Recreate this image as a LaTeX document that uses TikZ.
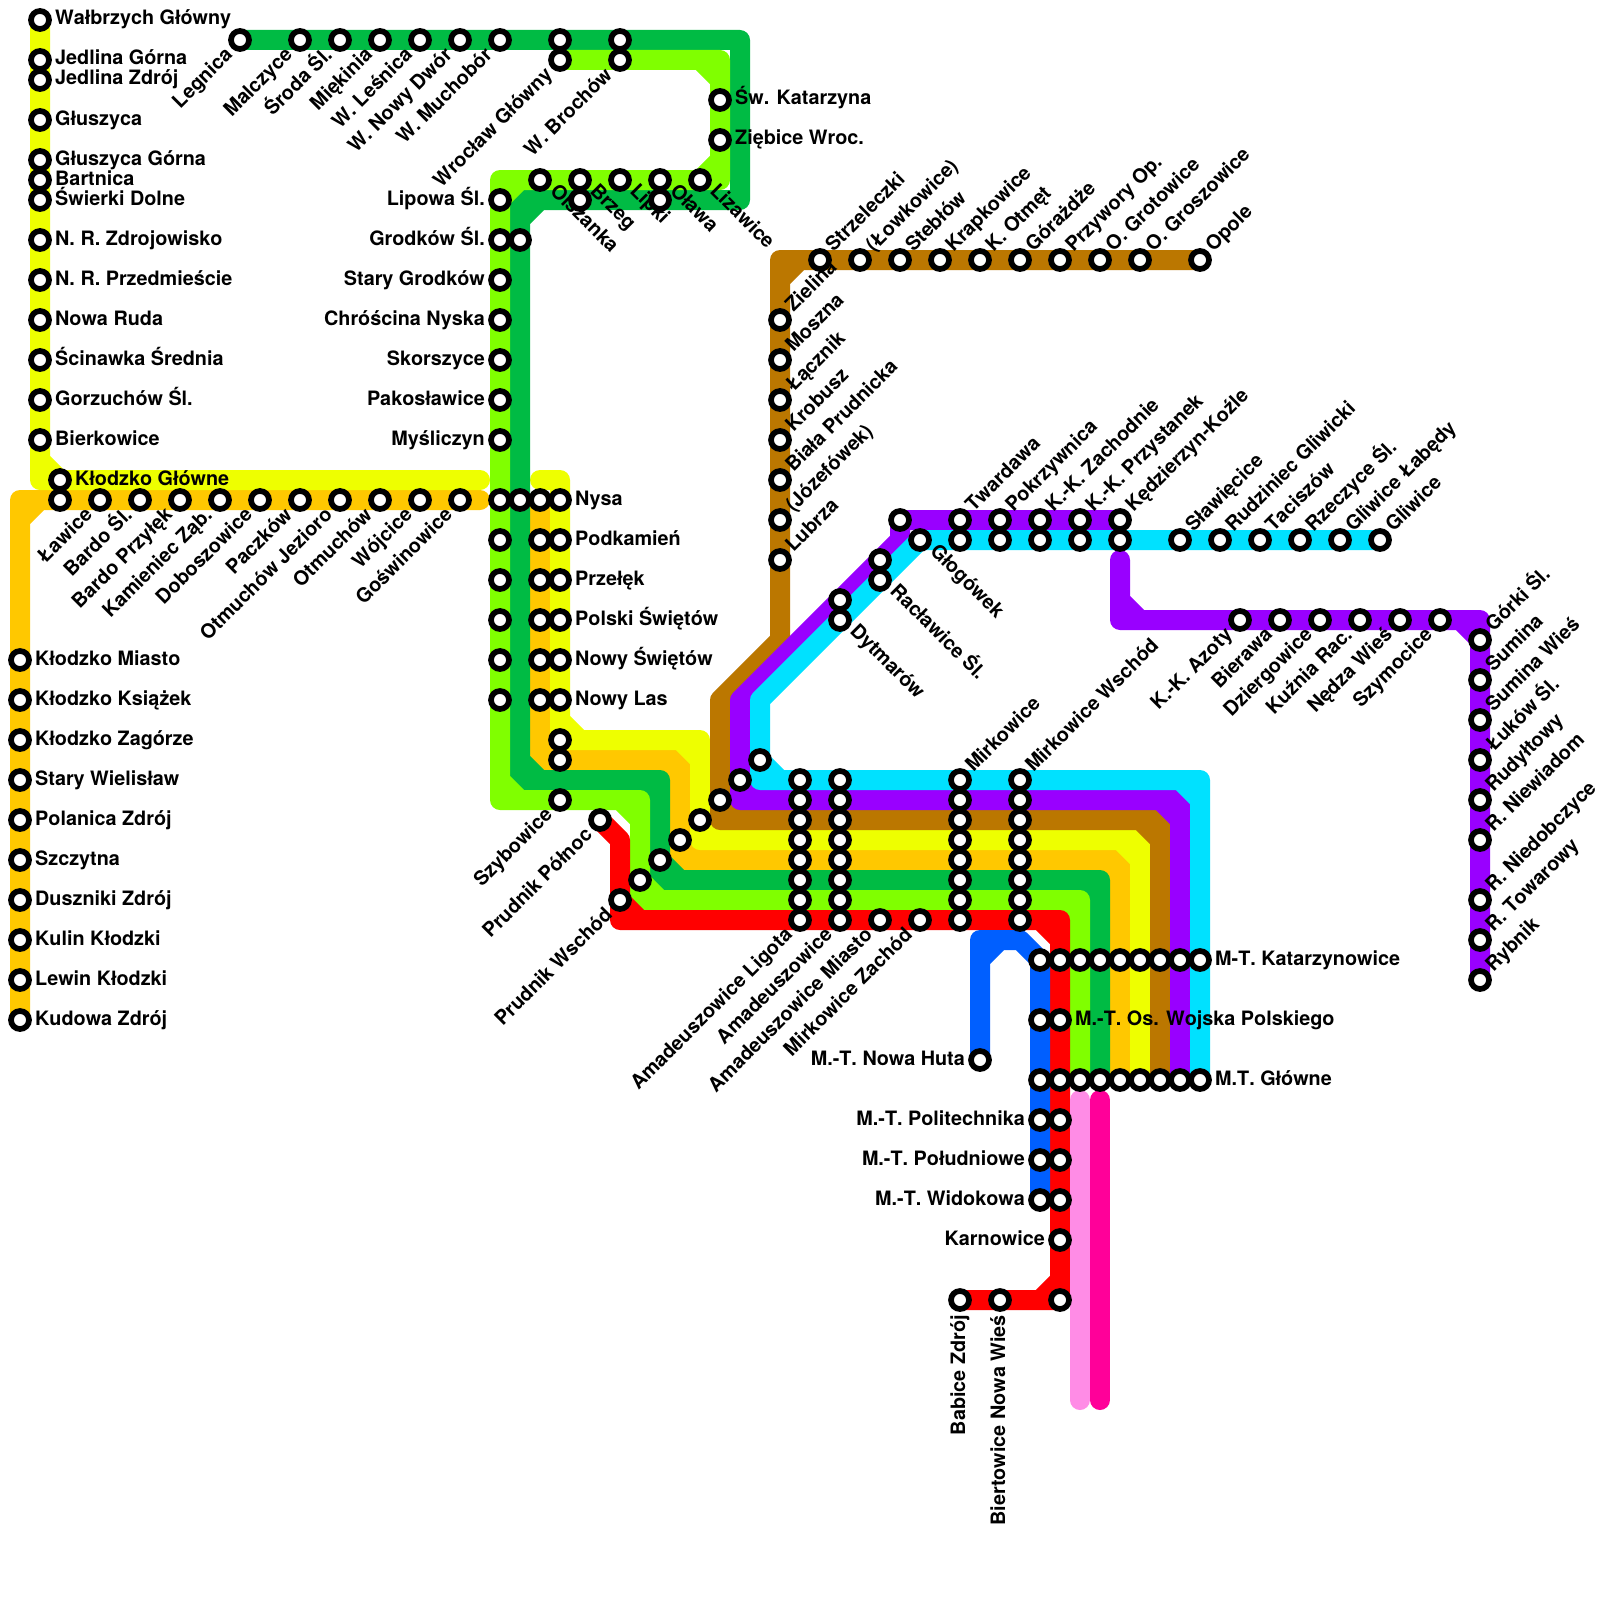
\documentclass[tikz,border=0pt]{standalone}
\usepackage{fontspec}
\setmainfont{TeX Gyre Heros}[Kerning=Off]
\newfontfamily\lslfont{Liberation Sans}
\catcode`ł=13
\protected\defł{{\lslfont\char"0142}}
\definecolor{cYel}{RGB}{238,255,0}
\definecolor{cOra}{RGB}{255,200,0}
\definecolor{cGre}{RGB}{0,187,68}
\definecolor{cLim}{RGB}{128,255,0}
\definecolor{cBro}{RGB}{187,119,0}
\definecolor{cPur}{RGB}{153,0,255}
\definecolor{cCya}{RGB}{0,225,255}
\definecolor{cRed}{RGB}{255,0,0}
\definecolor{cBlu}{RGB}{0,95,255}
\definecolor{cPin}{RGB}{255,140,230}
\definecolor{cMag}{RGB}{255,0,153}
\tikzset{
  rail/.style={line width=20pt,line cap=round,line join=round},
  stn/.style={circle,draw=black,fill=white,line width=5.7pt,minimum size=18pt,inner sep=0pt},
  lbl/.style={inner sep=0pt,font=\fontsize{19.8pt}{21pt}\selectfont\bfseries},
  lR/.style={lbl,anchor=base west,xshift=15pt,yshift=-5pt},
  lL/.style={lbl,anchor=base east,xshift=-15pt,yshift=-5pt},
  lUR/.style={lbl,anchor=base west,xshift=13.5pt,yshift=7pt,rotate=45},
  lDR/.style={lbl,anchor=base west,xshift=9pt,yshift=-12pt,rotate=-45},
  lDL/.style={lbl,anchor=base east,xshift=-6.5pt,yshift=-16pt,rotate=45},
  lDN/.style={lbl,anchor=base east,xshift=5pt,yshift=-15pt,rotate=90},
}
\newcommand{\stat}[2]{\node[stn] (s-#1-#2) at (#1,#2) {};}
\newcommand{\lab}[4]{\stat{#1}{#2}\node[#3] (t-#1-#2) at (s-#1-#2) {#4};}
\begin{document}
\begin{tikzpicture}[x=1pt,y=-1pt]
\useasboundingbox (0,0) rectangle (1600,1600);
\fill[white] (0,0) rectangle (1600,1600);
% orange
\draw[rail,cOra] (20,1020)--(20,500)--(480,500) (20,520)--(40,500);
\draw[rail,cOra] (540,500)--(540,760)--(680,760)--(680,860)--(1120,860)--(1120,1080) (540,740)--(560,760) (660,760)--(680,780) (680,840)--(700,860) (1100,860)--(1120,880);
% yellow
\draw[rail,cYel] (40,20)--(40,480)--(480,480) (40,460)--(60,480);
\draw[rail,cYel] (540,480)--(560,480)--(560,740)--(700,740)--(700,840)--(1140,840)--(1140,1080) (560,720)--(580,740) (680,740)--(700,760) (700,820)--(720,840) (1120,840)--(1140,860);
% brown
\draw[rail,cBro] (1200,260)--(780,260)--(780,640)--(720,700)--(720,820)--(1160,820)--(1160,1080) (780,280)--(800,260) (720,800)--(740,820) (1140,820)--(1160,840);
% purple
\draw[rail,cPur] (1120,520)--(900,520)--(900,540)--(740,700)--(740,800)--(1180,800)--(1180,1080) (740,780)--(760,800) (1160,800)--(1180,820);
\draw[rail,cPur] (1120,560)--(1120,620)--(1480,620)--(1480,980) (1120,600)--(1140,620) (1460,620)--(1480,640);
% cyan
\draw[rail,cCya] (1380,540)--(920,540)--(760,700)--(760,780)--(1200,780)--(1200,1080) (760,760)--(780,780) (1180,780)--(1200,800);
% green
\draw[rail,cGre] (240,40)--(740,40)--(740,200)--(520,200)--(520,780)--(660,780)--(660,880)--(1100,880)--(1100,1080) (520,220)--(540,200) (520,760)--(540,780) (640,780)--(660,800) (660,860)--(680,880) (1080,880)--(1100,900);
% lime
\draw[rail,cLim] (560,60)--(720,60)--(720,180)--(500,180)--(500,800)--(640,800)--(640,900)--(1080,900)--(1080,1080) (700,60)--(720,80) (720,160)--(700,180) (500,200)--(520,180) (500,780)--(520,800) (620,800)--(640,820) (640,880)--(660,900) (1060,900)--(1080,920);
% red
\draw[rail,cRed] (600,820)--(620,840)--(620,920)--(1060,920)--(1060,1300)--(960,1300) (620,900)--(640,920) (1040,920)--(1060,940) (1060,1280)--(1040,1300);
% blue
\draw[rail,cBlu] (980,1060)--(980,940)--(1020,940)--(1040,960)--(1040,1200) (980,960)--(1000,940);
% pink, magenta
\draw[rail,cPin] (1080,1100)--(1080,1400);
\draw[rail,cMag] (1100,1100)--(1100,1400);
% yellow line stations
\lab{40}{20}{lR}{Wałbrzych Główny}
\lab{40}{60}{lR}{Jedlina Górna}
\lab{40}{80}{lR}{Jedlina Zdrój}
\lab{40}{120}{lR}{Głuszyca}
\lab{40}{160}{lR}{Głuszyca Górna}
\lab{40}{180}{lR}{Bartnica}
\lab{40}{200}{lR}{Świerki Dolne}
\lab{40}{240}{lR}{N. R. Zdrojowisko}
\lab{40}{280}{lR}{N. R. Przedmieście}
\lab{40}{320}{lR}{Nowa Ruda}
\lab{40}{360}{lR}{Ścinawka Średnia}
\lab{40}{400}{lR}{Gorzuchów Śl.}
\lab{40}{440}{lR}{Bierkowice}
\lab{60}{480}{lR}{Kłodzko Główne}
% orange west
\stat{60}{500}
\lab{100}{500}{lDL}{Ławice}
\lab{140}{500}{lDL}{Bardo Śl.}
\lab{180}{500}{lDL}{Bardo Przyłęk}
\lab{220}{500}{lDL}{Kamieniec Ząb.}
\lab{260}{500}{lDL}{Doboszowice}
\lab{300}{500}{lDL}{Paczków}
\lab{340}{500}{lDL}{Otmuchów Jezioro}
\lab{380}{500}{lDL}{Otmuchów}
\lab{420}{500}{lDL}{Wójcice}
\lab{460}{500}{lDL}{Goświnowice}
\lab{20}{660}{lR}{Kłodzko Miasto}
\lab{20}{700}{lR}{Kłodzko Książek}
\lab{20}{740}{lR}{Kłodzko Zagórze}
\lab{20}{780}{lR}{Stary Wielisław}
\lab{20}{820}{lR}{Polanica Zdrój}
\lab{20}{860}{lR}{Szczytna}
\lab{20}{900}{lR}{Duszniki Zdrój}
\lab{20}{940}{lR}{Kulin Kłodzki}
\lab{20}{980}{lR}{Lewin Kłodzki}
\lab{20}{1020}{lR}{Kudowa Zdrój}
% top green
\lab{240}{40}{lDL}{Legnica}
\lab{300}{40}{lDL}{Malczyce}
\lab{340}{40}{lDL}{Środa Śl.}
\lab{380}{40}{lDL}{Miękinia}
\lab{420}{40}{lDL}{W. Leśnica}
\lab{460}{40}{lDL}{W. Nowy Dwór}
\lab{500}{40}{lDL}{W. Muchobór}
\stat{560}{40}
\stat{620}{40}
\lab{560}{60}{lDL}{Wrocław Główny}
\lab{620}{60}{lDL}{W. Brochów}
\lab{720}{100}{lR}{Św. Katarzyna}
\lab{720}{140}{lR}{Ziębice Wroc.}
\lab{540}{180}{lDR}{Olszanka}
\lab{580}{180}{lDR}{Brzeg}
\stat{580}{200}
\lab{620}{180}{lDR}{Lipki}
\lab{660}{180}{lDR}{Oława}
\stat{660}{200}
\lab{700}{180}{lDR}{Lizawice}
% lime column
\lab{500}{200}{lL}{Lipowa Śl.}
\lab{500}{240}{lL}{Grodków Śl.}
\stat{520}{240}
\lab{500}{280}{lL}{Stary Grodków}
\lab{500}{320}{lL}{Chróścina Nyska}
\lab{500}{360}{lL}{Skorszyce}
\lab{500}{400}{lL}{Pakosławice}
\lab{500}{440}{lL}{Myśliczyn}
\foreach \y in {500,540,580,620,660,700} {\stat{500}{\y}\stat{540}{\y}}
\stat{520}{500}
\lab{560}{500}{lR}{Nysa}
\lab{560}{540}{lR}{Podkamień}
\lab{560}{580}{lR}{Przełęk}
\lab{560}{620}{lR}{Polski Świętów}
\lab{560}{660}{lR}{Nowy Świętów}
\lab{560}{700}{lR}{Nowy Las}
\stat{560}{740}
\stat{560}{760}
\lab{560}{800}{lDL}{Szybowice}
\lab{600}{820}{lDL}{Prudnik Północ}
\lab{620}{900}{lDL}{Prudnik Wschód}
\stat{640}{880}
\stat{660}{860}
\stat{680}{840}
\stat{700}{820}
\stat{720}{800}
\stat{740}{780}
\stat{760}{760}
% brown
\lab{820}{260}{lUR}{Strzeleczki}
\lab{860}{260}{lUR}{(Łowkowice)}
\lab{900}{260}{lUR}{Stebłów}
\lab{940}{260}{lUR}{Krapkowice}
\lab{980}{260}{lUR}{K. Otmęt}
\lab{1020}{260}{lUR}{Górażdże}
\lab{1060}{260}{lUR}{Przywory Op.}
\lab{1100}{260}{lUR}{O. Grotowice}
\lab{1140}{260}{lUR}{O. Groszowice}
\lab{1200}{260}{lUR}{Opole}
\lab{780}{320}{lUR}{Zielina}
\lab{780}{360}{lUR}{Moszna}
\lab{780}{400}{lUR}{Łącznik}
\lab{780}{440}{lUR}{Krobusz}
\lab{780}{480}{lUR}{Biała Prudnicka}
\lab{780}{520}{lUR}{(Józefówek)}
\lab{780}{560}{lUR}{Lubrza}
% diagonal
\stat{900}{520}
\lab{920}{540}{lDR}{Głogówek}
\stat{880}{560}
\lab{880}{580}{lDR}{Racławice Śl.}
\stat{840}{600}
\lab{840}{620}{lDR}{Dytmarów}
\lab{960}{520}{lUR}{Twardawa}
\stat{960}{540}
\lab{1000}{520}{lUR}{Pokrzywnica}
\stat{1000}{540}
\lab{1040}{520}{lUR}{K.-K. Zachodnie}
\stat{1040}{540}
\lab{1080}{520}{lUR}{K.-K. Przystanek}
\stat{1080}{540}
\lab{1120}{520}{lUR}{Kędzierzyn-Koźle}
\stat{1120}{540}
\lab{1180}{540}{lUR}{Sławięcice}
\lab{1220}{540}{lUR}{Rudziniec Gliwicki}
\lab{1260}{540}{lUR}{Taciszów}
\lab{1300}{540}{lUR}{Rzeczyce Śl.}
\lab{1340}{540}{lUR}{Gliwice Łabędy}
\lab{1380}{540}{lUR}{Gliwice}
\lab{1240}{620}{lDL}{K.-K. Azoty}
\lab{1280}{620}{lDL}{Bierawa}
\lab{1320}{620}{lDL}{Dziergowice}
\lab{1360}{620}{lDL}{Kuźnia Rac.}
\lab{1400}{620}{lDL}{Nędza Wieś}
\lab{1440}{620}{lDL}{Szymocice}
\lab{1480}{640}{lUR}{Górki Śl.}
\lab{1480}{680}{lUR}{Sumina}
\lab{1480}{720}{lUR}{Sumina Wieś}
\lab{1480}{760}{lUR}{Łuków Śl.}
\lab{1480}{800}{lUR}{Rudyłtowy}
\lab{1480}{840}{lUR}{R. Niewiadom}
\lab{1480}{900}{lUR}{R. Niedobczyce}
\lab{1480}{940}{lUR}{R. Towarowy}
\lab{1480}{980}{lUR}{Rybnik}
% columns
\foreach \x in {800,840,960,1020} {\foreach \y in {800,820,...,900} {\stat{\x}{\y}}}
\stat{800}{780}
\stat{840}{780}
\lab{960}{780}{lUR}{Mirkowice}
\lab{1020}{780}{lUR}{Mirkowice Wschód}
\lab{800}{920}{lDL}{Amadeuszowice Ligota}
\lab{840}{920}{lDL}{Amadeuszowice}
\lab{880}{920}{lDL}{Amadeuszowice Miasto}
\lab{920}{920}{lDL}{Mirkowice Zachód}
\stat{960}{920}
\stat{1020}{920}
% junction block
\foreach \x in {1040,1060,...,1180} {\stat{\x}{960}}
\lab{1200}{960}{lR}{M-T. Katarzynowice}
\stat{1040}{1020}
\lab{1060}{1020}{lR}{M.-T. Os. Wojska Polskiego}
\foreach \x in {1040,1060,...,1180} {\stat{\x}{1080}}
\lab{1200}{1080}{lR}{M.T. Główne}
\lab{980}{1060}{lL}{M.-T. Nowa Huta}
\lab{1040}{1120}{lL}{M.-T. Politechnika}
\lab{1040}{1160}{lL}{M.-T. Południowe}
\lab{1040}{1200}{lL}{M.-T. Widokowa}
\stat{1060}{1120}
\stat{1060}{1160}
\stat{1060}{1200}
\lab{1060}{1240}{lL}{Karnowice}
\stat{1060}{1300}
\lab{960}{1300}{lDN}{Babice Zdrój}
\lab{1000}{1300}{lDN}{Biertowice Nowa Wieś}
\end{tikzpicture}
\end{document}
